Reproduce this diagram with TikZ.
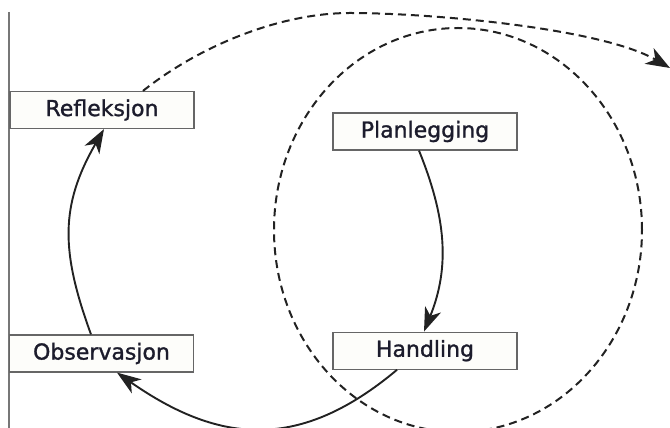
\documentclass[tikz,border=0pt]{standalone}
\usepackage{fontspec}
\setmainfont{DejaVu Sans}
\newfontfamily\stagefont[FakeBold=1.2]{DejaVu Sans}
\usetikzlibrary{positioning,arrows.meta}
\definecolor{boxline}{HTML}{666666}
\definecolor{boxfill}{HTML}{FDFDFA}
\definecolor{textcol}{HTML}{1C1C2C}
\definecolor{lineblack}{HTML}{222222}
\definecolor{axisgray}{HTML}{777777}

\begin{document}
\begin{tikzpicture}
  [x=1pt, y=1pt,
   stage/.style={draw=boxline, fill=boxfill, line width=1.2pt, text=textcol,
     minimum width=184pt, minimum height=37pt, inner sep=0pt,
     font=\stagefont\fontsize{22}{26}\selectfont},
   cycleline/.style={line width=1.9pt, draw=lineblack,
     -{Stealth[length=24pt,width=17pt,inset=7pt]}},
   spiralline/.style={line width=2pt, draw=lineblack,
     dash pattern=on 8pt off 5pt}]

  \useasboundingbox (0,0) rectangle (670,428);
  \clip (0,0) rectangle (670,428);

  % left margin line
  \draw [line width=1.4pt, color=axisgray] (9,416) -- (9,0);

  % the next cycle
  \draw [spiralline] (458,198) ellipse [x radius=184, y radius=202];

  % the four stages
  \node [stage] (refl) at (102,318) {Refleksjon};
  \node [stage] (plan) at (425,296.5) {Planlegging};
  \node [stage, below=181pt of plan] (hand) {Handling};
  \node [stage] (obs) at (101.5,74.5) {Observasjon};

  \coordinate (apex) at (350,415);
  \coordinate (onward) at (670,360);

  \draw [cycleline] ([xshift=-6pt]plan.south) to[out=-68, in=68] ([xshift=-1pt]hand.north);
  \draw [cycleline] ([xshift=-28pt]hand.south) to[out=-140, in=-35, looseness=1.15] ([xshift=15.5pt]obs.south);
  \draw [cycleline] ([xshift=-10.5pt]obs.north) to[out=110, in=-120, looseness=1.1] ([xshift=2pt]refl.south);

  % from reflection into the next round
  \draw [spiralline, -{Stealth[length=24pt,width=18pt,inset=7pt]}]
    ([xshift=41pt]refl.north) .. controls (199.6,382.2) and (280,415) .. (apex)
    .. controls (430,415) and (600.7,400) .. (onward);

\end{tikzpicture}
\end{document}
